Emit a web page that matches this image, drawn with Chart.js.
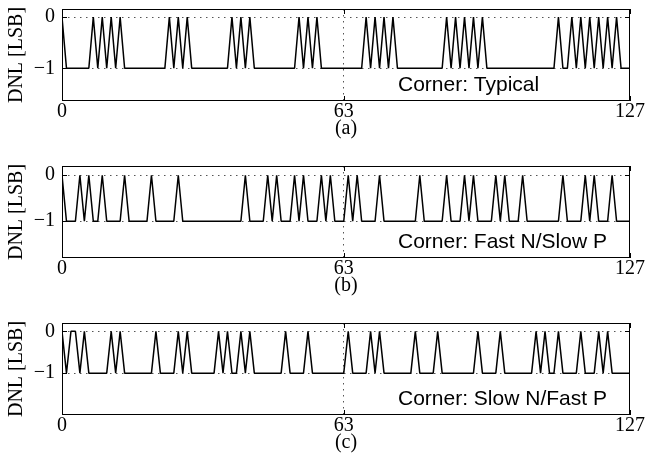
<!DOCTYPE html>
<html lang="en">
<head>
<meta charset="UTF-8">
<title>DNL per process corner</title>
<script src="https://cdn.jsdelivr.net/npm/chart.js"></script>
<style>
  body { margin: 0; background: #fff; width: 648px; height: 466px; overflow: hidden; position: relative; }
  .panel { position: absolute; left: 0; width: 648px; height: 141px; }
</style>
</head>
<body>
<div class="panel" style="top:0px"><canvas id="dnlA"></canvas></div>
<div class="panel" style="top:157px"><canvas id="dnlB"></canvas></div>
<div class="panel" style="top:314px"><canvas id="dnlC"></canvas></div>
<script>
// codes 0..127 on the x axis
var codes = [];
for (var i = 0; i < 128; i++) codes.push(i);

var xTicks = [0, 63, 127];
var yTicks = [-1, 0];

// DNL [LSB] per code
var dnlTypical = [
  0, -1, -1, -1, -1, -1, -1, 0, -1, 0, -1, 0, -1, 0, -1, -1,
  -1, -1, -1, -1, -1, -1, -1, -1, 0, -1, 0, -1, 0, -1, -1, -1,
  -1, -1, -1, -1, -1, -1, 0, -1, 0, -1, 0, -1, -1, -1, -1, -1,
  -1, -1, -1, -1, -1, 0, -1, 0, -1, 0, -1, -1, -1, -1, -1, -1,
  -1, -1, -1, -1, 0, -1, 0, -1, 0, -1, 0, -1, -1, -1, -1, -1,
  -1, -1, -1, -1, -1, -1, 0, -1, 0, -1, 0, -1, 0, -1, 0, -1,
  -1, -1, -1, -1, -1, -1, -1, -1, -1, -1, -1, -1, -1, -1, -1, 0,
  -1, -1, 0, -1, 0, -1, 0, -1, 0, -1, 0, -1, 0, -1, -1, -1
];
var dnlFastNSlowP = [
  0, -1, -1, -1, 0, -1, 0, -1, -1, 0, -1, -1, -1, -1, 0, -1,
  -1, -1, -1, -1, 0, -1, -1, -1, -1, -1, 0, -1, -1, -1, -1, -1,
  -1, -1, -1, -1, -1, -1, -1, -1, -1, 0, -1, -1, -1, -1, 0, -1,
  0, -1, -1, -1, 0, -1, 0, -1, -1, -1, 0, -1, 0, -1, -1, -1,
  0, -1, 0, -1, -1, -1, -1, 0, -1, -1, -1, -1, -1, -1, -1, -1,
  0, -1, -1, -1, -1, -1, 0, -1, -1, -1, 0, -1, 0, -1, -1, -1,
  -1, 0, -1, 0, -1, -1, -1, 0, -1, -1, -1, -1, -1, -1, -1, -1,
  0, -1, -1, -1, -1, 0, -1, 0, -1, -1, -1, 0, -1, -1, -1, -1
];
var dnlSlowNFastP = [
  0, -1, 0, 0, -1, 0, -1, -1, -1, -1, -1, 0, -1, 0, -1, -1,
  -1, -1, -1, -1, -1, 0, -1, -1, -1, -1, 0, -1, 0, -1, -1, -1,
  -1, -1, -1, 0, -1, 0, -1, -1, 0, -1, 0, -1, -1, -1, -1, -1,
  -1, -1, 0, -1, -1, -1, -1, 0, -1, -1, -1, -1, -1, -1, -1, -1,
  0, -1, -1, -1, -1, 0, -1, 0, -1, -1, -1, -1, -1, -1, -1, 0,
  -1, -1, -1, -1, 0, -1, -1, -1, -1, -1, -1, -1, -1, 0, -1, -1,
  -1, -1, 0, -1, -1, -1, -1, -1, -1, -1, 0, -1, 0, -1, -1, 0,
  -1, -1, -1, -1, 0, -1, -1, -1, 0, -1, 0, -1, -1, -1, -1, -1
];

var cornerNames = ['Corner: Typical', 'Corner: Fast N/Slow P', 'Corner: Slow N/Fast P'];
var captions = ['(a)', '(b)', '(c)'];
var yMins = [-1.64, -1.8, -2];
var yMaxs = [0.16, 0.2, 0.2];

var serif = 'Liberation Serif';

// box around the axes, inward ticks, corner label
var framePlugin = {
  id: 'frame',
  afterDatasetsDraw: function (chart, args, opts) {
    var a = chart.chartArea, ctx = chart.ctx;
    ctx.save();
    ctx.font = '21px "Liberation Sans", Arial, sans-serif';
    var w = ctx.measureText(opts.text).width;
    var tx = a.left + 336;
    ctx.fillStyle = '#fff';
    ctx.fillRect(tx - 5, a.bottom - 32, w + 9, 32);
    ctx.fillStyle = '#000';
    ctx.textBaseline = 'alphabetic';
    ctx.fillText(opts.text, tx, a.bottom - 10);
    ctx.restore();
  },
  afterDraw: function (chart) {
    var a = chart.chartArea, ctx = chart.ctx;
    var xs = chart.scales.x, ys = chart.scales.y;
    ctx.save();
    ctx.strokeStyle = '#000';
    ctx.lineWidth = 1;
    ctx.strokeRect(a.left + 0.5, a.top + 0.5, a.right - a.left - 1, a.bottom - a.top - 1);
    ctx.beginPath();
    xTicks.forEach(function (v) {
      var px = Math.round(xs.getPixelForValue(v)) + 0.5;
      ctx.moveTo(px, a.top); ctx.lineTo(px, a.top + 5);
      ctx.moveTo(px, a.bottom); ctx.lineTo(px, a.bottom - 5);
    });
    yTicks.forEach(function (v) {
      var py = Math.round(ys.getPixelForValue(v)) + 0.5;
      ctx.moveTo(a.left, py); ctx.lineTo(a.left + 5, py);
      ctx.moveTo(a.right, py); ctx.lineTo(a.right - 5, py);
    });
    ctx.stroke();
    ctx.restore();
  }
};

function makePanel(id, values, k) {
  return new Chart(document.getElementById(id), {
    type: 'line',
    data: {
      labels: codes,
      datasets: [{
        data: values,
        borderColor: '#000',
        borderWidth: 1.5,
        borderJoinStyle: 'bevel',
        pointRadius: 0,
        tension: 0,
        fill: false
      }]
    },
    options: {
      responsive: true,
      maintainAspectRatio: false,
      animation: false,
      layout: { padding: { top: 9, right: 18, left: 0, bottom: 0 } },
      plugins: {
        legend: { display: false },
        tooltip: { enabled: false },
        frame: { text: cornerNames[k] }
      },
      scales: {
        x: {
          type: 'linear',
          min: 0,
          max: 127,
          afterBuildTicks: function (s) { s.ticks = xTicks.map(function (v) { return { value: v }; }); },
          afterFit: function (s) { s.height = 40; s.paddingLeft = 0; s.paddingRight = 0; },
          ticks: {
            autoSkip: false,
            maxRotation: 0,
            padding: 1,
            color: '#000',
            font: { family: serif, size: 20, lineHeight: 1 }
          },
          grid: {
            drawTicks: false,
            lineWidth: 1,
            color: function (c) { return c.tick && c.tick.value === 63 ? '#555' : 'rgba(0,0,0,0)'; }
          },
          border: { display: false, dash: [1.5, 4.5] },
          title: {
            display: true,
            text: captions[k],
            color: '#000',
            font: { family: serif, size: 20, lineHeight: 1 },
            padding: { top: 0, bottom: 2 }
          }
        },
        y: {
          min: yMins[k],
          max: yMaxs[k],
          afterBuildTicks: function (s) { s.ticks = yTicks.map(function (v) { return { value: v }; }); },
          afterFit: function (s) { s.width = 62; s.paddingTop = 0; s.paddingBottom = 0; },
          ticks: {
            padding: 7,
            color: '#000',
            font: { family: serif, size: 20, lineHeight: 1 },
            callback: function (v) { return v < 0 ? '\u2212' + Math.abs(v) : String(v); }
          },
          grid: {
            drawTicks: false,
            lineWidth: 1,
            color: '#555'
          },
          border: { display: false, dash: [1.5, 4.5] },
          title: {
            display: true,
            text: 'DNL [LSB]',
            color: '#000',
            font: { family: serif, size: 20, lineHeight: 1 },
            padding: { top: 7, bottom: 0 }
          }
        }
      }
    },
    plugins: [framePlugin]
  });
}

makePanel('dnlA', dnlTypical, 0);
makePanel('dnlB', dnlFastNSlowP, 1);
makePanel('dnlC', dnlSlowNFastP, 2);
</script>
</body>
</html>
